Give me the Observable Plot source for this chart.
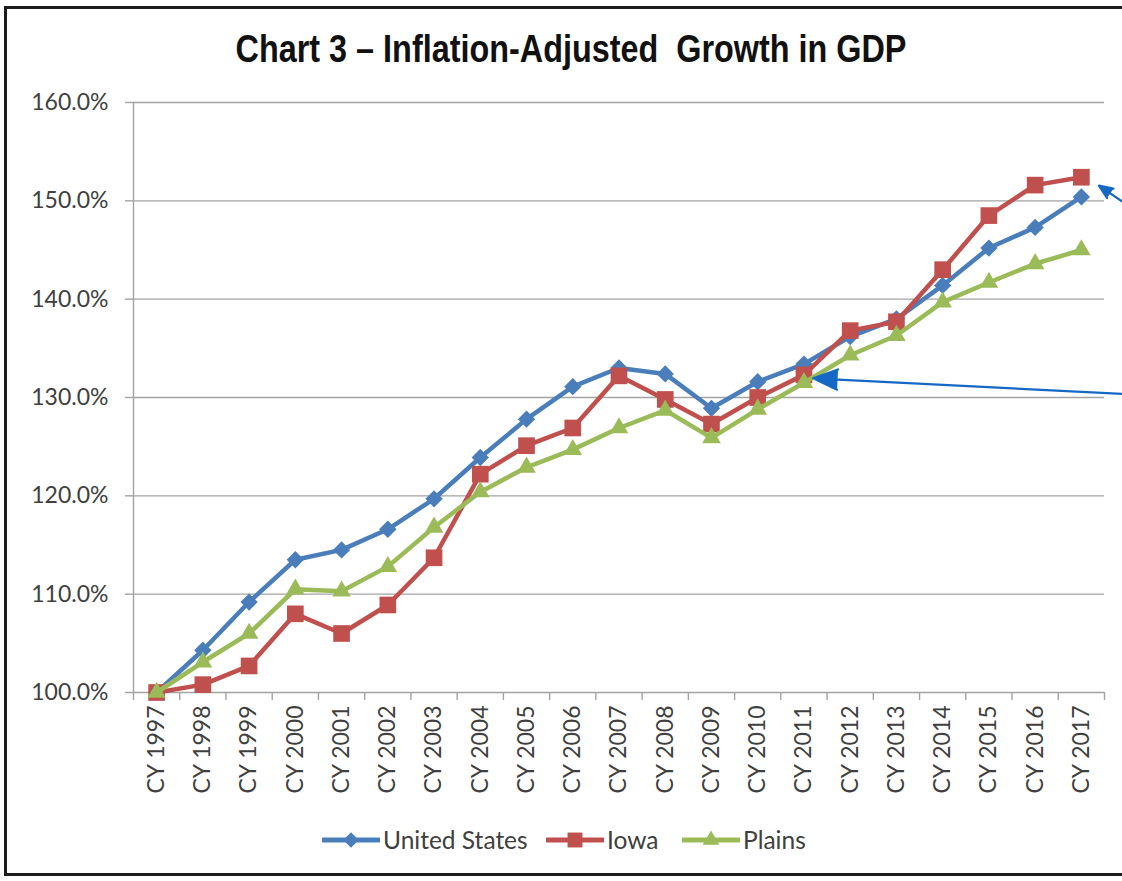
<!DOCTYPE html>
<html>
<head>
<meta charset="utf-8">
<script src="https://cdn.jsdelivr.net/npm/d3@7"></script>
<script src="https://cdn.jsdelivr.net/npm/@observablehq/plot@0.6"></script>
<style>
  html, body { margin: 0; padding: 0; background: #fff; }
  #wrap { position: relative; width: 1122px; height: 881px; overflow: hidden; background: #fff; }
  #border { position: absolute; left: 4px; top: 6px; width: 1200px; height: 870px; border: 3px solid #1c1c1c; border-right: none; box-sizing: border-box; }
  #title { position: absolute; left: 571px; top: 26px; white-space: nowrap; font-family: "Liberation Sans", Arial, sans-serif; font-weight: bold; font-size: 39px; line-height: 45px; color: #111; transform: translateX(-50%) scaleX(0.83); transform-origin: 50% 50%; }
  #chart { position: absolute; left: 0; top: 0; }
  .item { position: absolute; top: 825px; display: flex; align-items: center; font-family: Lato, "Open Sans", sans-serif; font-size: 24.5px; color: #404040; white-space: nowrap; }
  .item svg { margin-right: 3px; }
</style>
</head>
<body>
<div id="wrap">
  <div id="border"></div>
  <div id="title">Chart 3 – Inflation-Adjusted&nbsp; Growth in GDP</div>
  <div id="chart"></div>
  <div id="legend"></div>
</div>
<script>
const years = [1997, 1998, 1999, 2000, 2001, 2002, 2003, 2004, 2005, 2006, 2007, 2008, 2009, 2010, 2011, 2012, 2013, 2014, 2015, 2016, 2017];
const unitedStates = [100.0, 104.3, 109.2, 113.5, 114.5, 116.6, 119.7, 123.9, 127.8, 131.1, 133.0, 132.4, 128.9, 131.6, 133.4, 136.2, 138.0, 141.4, 145.2, 147.3, 150.4];
const iowa = [100.0, 100.8, 102.7, 108.0, 106.0, 108.9, 113.7, 122.2, 125.1, 126.9, 132.2, 129.8, 127.3, 130.0, 132.3, 136.8, 137.7, 143.0, 148.5, 151.6, 152.4];
const plains = [100.0, 103.1, 106.0, 110.5, 110.3, 112.8, 116.8, 120.4, 122.9, 124.7, 126.9, 128.7, 125.9, 128.8, 131.5, 134.3, 136.3, 139.7, 141.7, 143.6, 145.0];
const seriesNames = ["United States", "Iowa", "Plains"];
const seriesColors = ["#4A7EBB", "#C0504D", "#9BBB59"];
const yTicks = [100, 110, 120, 130, 140, 150, 160];
const xLabelPrefix = "CY ";
// annotation arrows (tail off the right edge, head at data point)
const arrows = [
  {x1: 2018.17, y1: 149.0, x2: 2017.38, y2: 151.55},
  {x1: 2018.17, y1: 130.3, x2: 2011.2, y2: 131.95}
];

const seriesValues = [unitedStates, iowa, plains];
const symbols = [d3.symbolDiamond2, d3.symbolSquare, d3.symbolTriangle];
const radii = [7.8, 9.4, 6.9];

const data = [];
seriesNames.forEach((name, i) => years.forEach((yr, j) => data.push({series: name, year: yr, value: seriesValues[i][j]})));

const tickEdges = years.map(y => y - 0.5).concat([years[years.length - 1] + 0.5]);

const marks = [
  Plot.gridY(yTicks, {stroke: "#a3a3a3", strokeOpacity: 1, strokeWidth: 1.4}),
  Plot.frame({anchor: "left", stroke: "#a3a3a3", strokeWidth: 1.4}),
  Plot.axisY({ticks: yTicks, tickSize: 8, tickPadding: 17, tickFormat: d => d.toFixed(1) + "%", fontSize: 23, stroke: "#a3a3a3", strokeWidth: 1.4, color: "#404040", label: null}),
  Plot.axisX({ticks: tickEdges, tickSize: 8, tickFormat: () => "", stroke: "#a3a3a3", strokeWidth: 1.4, label: null}),
  Plot.axisX({ticks: years, tickSize: 0, tickPadding: 13, tickRotate: -90, tickFormat: d => xLabelPrefix + d, fontSize: 23, color: "#404040", label: null})
];
seriesNames.forEach((name, i) => {
  const rows = data.filter(d => d.series === name);
  marks.push(Plot.line(rows, {x: "year", y: "value", stroke: seriesColors[i], strokeWidth: 4.5, strokeLinejoin: "round"}));
  marks.push(Plot.dot(rows, {x: "year", y: "value", symbol: symbols[i], r: radii[i], fill: seriesColors[i], stroke: "none"}));
});
marks.push(Plot.arrow(arrows, {x1: "x1", y1: "y1", x2: "x2", y2: "y2", stroke: "#1668C6", fill: "#1668C6", strokeWidth: 2.2, headLength: 18, headAngle: 45, clip: false}));

const chart = Plot.plot({
  width: 1122,
  height: 881,
  marginLeft: 133,
  marginRight: 18,
  marginTop: 102,
  marginBottom: 189,
  style: {fontFamily: "Lato, 'Open Sans', sans-serif", overflow: "visible", background: "transparent"},
  x: {type: "linear", domain: [1996.5, 2017.5], axis: null},
  y: {domain: [100, 160], axis: null},
  marks
});
document.getElementById("chart").appendChild(chart);

// legend
const legend = document.getElementById("legend");
const legendLeft = [322, 546, 682];
seriesNames.forEach((name, i) => {
  const item = document.createElement("div");
  item.className = "item";
  item.style.left = legendLeft[i] + "px";
  const w = 58, h = 24;
  const sz = Math.PI * radii[i] * radii[i] * 0.8;
  const path = d3.symbol(symbols[i], sz)();
  item.innerHTML = `<svg width="${w}" height="${h}"><line x1="1" x2="${w-1}" y1="${h/2}" y2="${h/2}" stroke="${seriesColors[i]}" stroke-width="5" stroke-linecap="round"/><path transform="translate(${w/2},${h/2})" d="${path}" fill="${seriesColors[i]}"/></svg><span>${name}</span>`;
  legend.appendChild(item);
});
</script>
</body>
</html>
